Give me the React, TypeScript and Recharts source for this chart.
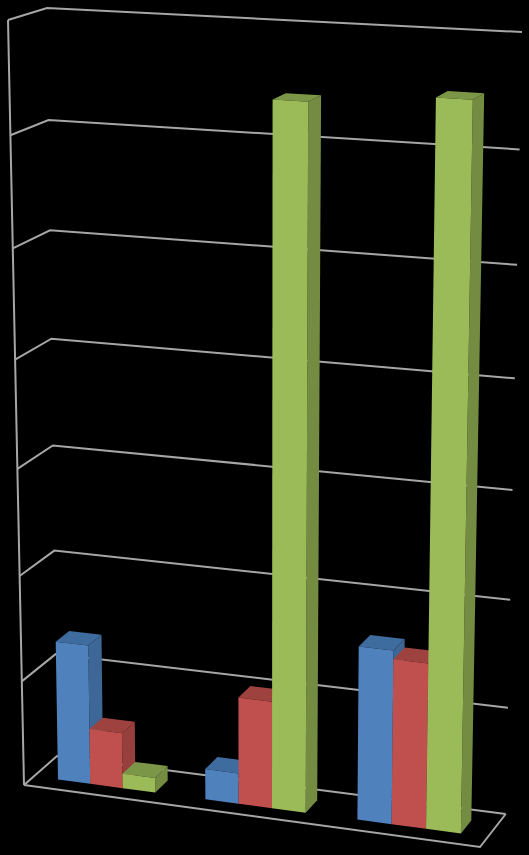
import React from "react";
import { BarChart, Bar, XAxis, YAxis, CartesianGrid } from "recharts";

const categories = ["A", "B", "C"];
const series1 = [1.33, 0.29, 1.62];
const series2 = [0.53, 1.01, 1.54];
const series3 = [0.14, 6.41, 6.51];
const yTicks = [0, 1, 2, 3, 4, 5, 6, 7];
const data = categories.map((c, i) => ({ c, s1: series1[i], s2: series2[i], s3: series3[i] }));

const W = 529;
const H = 855;
const GRID = "#a6a6a6";
type P = [number, number];

function homography(p0: P, p1: P, p2: P, p3: P) {
  const dx1 = p1[0] - p2[0], dx2 = p3[0] - p2[0], sx = p0[0] - p1[0] + p2[0] - p3[0];
  const dy1 = p1[1] - p2[1], dy2 = p3[1] - p2[1], sy = p0[1] - p1[1] + p2[1] - p3[1];
  const den = dx1 * dy2 - dx2 * dy1;
  const g = (sx * dy2 - dx2 * sy) / den;
  const h = (dx1 * sy - sx * dy1) / den;
  const a = p1[0] - p0[0] + g * p1[0], b = p3[0] - p0[0] + h * p3[0], c = p0[0];
  const d = p1[1] - p0[1] + g * p1[1], e = p3[1] - p0[1] + h * p3[1], f = p0[1];
  return (u: number, v: number): P => {
    const q = g * u + h * v + 1;
    return [(a * u + b * v + c) / q, (d * u + e * v + f) / q];
  };
}

const frontPlane = homography([24, 785], [480, 847], [494, 47], [8, 20]);
const backPlane = homography([57, 756], [505.7, 814], [522, 32], [47, 8]);

function project(u: number, v: number, w: number): P {
  const f = frontPlane(u, v);
  const b = backPlane(u, v);
  return [f[0] + (b[0] - f[0]) * w, f[1] + (b[1] - f[1]) * w];
}
const pts = (list: P[]) => list.map((p) => `${p[0].toFixed(1)},${p[1].toFixed(1)}`).join(" ");

const W_FRONT = 0.3;
const W_BACK = 0.7;

function box(face: string, side: string, top: string) {
  return (props: any) => {
    const { x, y, width, height } = props;
    const u0 = x / W, u1 = (x + width) / W;
    const v0 = (H - (y + height)) / H, v1 = (H - y) / H;
    const a = W_FRONT, b = W_BACK;
    return (
      <g>
        <polygon points={pts([project(u1, v0, a), project(u1, v0, b), project(u1, v1, b), project(u1, v1, a)])} fill={side} />
        <polygon points={pts([project(u0, v1, a), project(u1, v1, a), project(u1, v1, b), project(u0, v1, b)])} fill={top} />
        <polygon points={pts([project(u0, v0, a), project(u1, v0, a), project(u1, v1, a), project(u0, v1, a)])} fill={face} />
      </g>
    );
  };
}

function gridLine(props: any) {
  const v = (H - props.y1) / H;
  const line = { fill: "none", stroke: GRID, strokeWidth: 2 };
  const isFloor = v < 0.001;
  return (
    <g key={props.key}>
      <polyline points={pts([project(0, v, 0), project(0, v, 1), project(1, v, 1)])} {...line} />
      {isFloor ? (
        <>
          <polyline points={pts([project(1, 0, 1), project(1, 0, 0), project(0, 0, 0)])} {...line} />
          <polyline points={pts([project(0, 0, 0), project(0, 1, 0)])} {...line} />
        </>
      ) : null}
    </g>
  );
}

export default function App() {
  return (
    <div style={{ position: "absolute", left: 0, top: 0, width: W, height: H, background: "#000", overflow: "hidden" }}>
      <BarChart width={W} height={H} data={data} margin={{ top: 0, right: 0, bottom: 0, left: 0 }} barCategoryGap="16.67%" barGap={0}>
        <XAxis dataKey="c" hide />
        <YAxis hide domain={[0, 7]} ticks={yTicks} />
        <CartesianGrid horizontal={gridLine} vertical={false} />
        <Bar dataKey="s1" isAnimationActive={false} shape={box("#4f81bd", "#3c6796", "#3f6c9f")} />
        <Bar dataKey="s2" isAnimationActive={false} shape={box("#c0504d", "#963f3c", "#9e4240")} />
        <Bar dataKey="s3" isAnimationActive={false} shape={box("#9bbb59", "#748c42", "#7c9647")} />
      </BarChart>
    </div>
  );
}
